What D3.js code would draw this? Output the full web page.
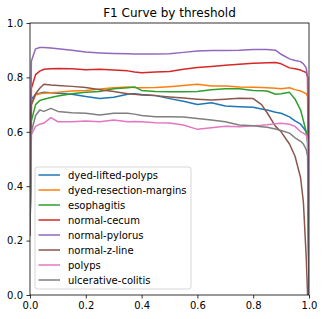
<!DOCTYPE html>
<meta charset="utf-8">
<style>
  body { margin: 0; background: #fff; }
  text { font-family: "DejaVu Sans", sans-serif; fill: #000; }
</style>
<script src="https://d3js.org/d3.v7.min.js"></script>
<div id="my_dataviz"></div>
<script>
// thresholds shared by every class
var thresholds = [0, 0.005, 0.02, 0.035, 0.05, 0.075, 0.1, 0.15, 0.2, 0.25, 0.3, 0.35, 0.375, 0.4, 0.45, 0.5,
  0.55, 0.6, 0.65, 0.7, 0.75, 0.8, 0.83, 0.85, 0.88, 0.9, 0.93, 0.95, 0.97, 0.98, 0.99, 0.995, 1]

var classNames = ["dyed-lifted-polyps", "dyed-resection-margins", "esophagitis", "normal-cecum",
  "normal-pylorus", "normal-z-line", "polyps", "ulcerative-colitis"]

var dyedLifted = [0.22, 0.72, 0.738, 0.742, 0.745, 0.744, 0.742, 0.738, 0.73, 0.722, 0.727, 0.738, 0.74, 0.737, 0.733, 0.722,
  0.712, 0.7, 0.707, 0.695, 0.692, 0.69, 0.684, 0.68, 0.672, 0.668, 0.655, 0.64, 0.628, 0.615, 0.6, 0.58, 0]
var dyedResection = [0.22, 0.7, 0.735, 0.74, 0.742, 0.744, 0.745, 0.75, 0.752, 0.757, 0.762, 0.765, 0.763, 0.762, 0.763, 0.766,
  0.77, 0.775, 0.768, 0.768, 0.765, 0.764, 0.763, 0.762, 0.76, 0.758, 0.762, 0.755, 0.75, 0.745, 0.74, 0.73, 0]
var esophagitis = [0.22, 0.64, 0.7, 0.715, 0.72, 0.726, 0.732, 0.74, 0.745, 0.748, 0.758, 0.762, 0.765, 0.752, 0.748, 0.747,
  0.747, 0.748, 0.755, 0.758, 0.758, 0.752, 0.751, 0.75, 0.738, 0.74, 0.745, 0.72, 0.68, 0.64, 0.6, 0.56, 0]
var normalCecum = [0.22, 0.76, 0.81, 0.823, 0.83, 0.832, 0.833, 0.832, 0.828, 0.83, 0.827, 0.824, 0.82, 0.817, 0.82, 0.822,
  0.83, 0.836, 0.84, 0.845, 0.848, 0.852, 0.853, 0.854, 0.855, 0.85, 0.835, 0.832, 0.827, 0.822, 0.818, 0.8, 0]
var normalPylorus = [0.22, 0.86, 0.905, 0.91, 0.91, 0.908, 0.905, 0.9, 0.893, 0.89, 0.888, 0.887, 0.886, 0.886, 0.886, 0.887,
  0.892, 0.897, 0.899, 0.899, 0.9, 0.903, 0.903, 0.903, 0.9, 0.885, 0.868, 0.862, 0.858, 0.85, 0.835, 0.8, 0]
var normalZline = [0.22, 0.7, 0.74, 0.76, 0.775, 0.772, 0.77, 0.767, 0.763, 0.755, 0.748, 0.74, 0.738, 0.735, 0.733, 0.728,
  0.724, 0.72, 0.717, 0.72, 0.723, 0.722, 0.7, 0.67, 0.62, 0.6, 0.555, 0.51, 0.43, 0.34, 0.14, 0, 0]
var polyps = [0.22, 0.59, 0.62, 0.628, 0.632, 0.652, 0.637, 0.637, 0.64, 0.637, 0.643, 0.637, 0.638, 0.637, 0.633, 0.632,
  0.625, 0.609, 0.615, 0.62, 0.619, 0.622, 0.624, 0.626, 0.63, 0.631, 0.628, 0.62, 0.6, 0.595, 0.588, 0.57, 0]
var ulcerative = [0.22, 0.6, 0.66, 0.68, 0.675, 0.686, 0.675, 0.67, 0.668, 0.662, 0.668, 0.668, 0.665, 0.66, 0.655, 0.655,
  0.654, 0.649, 0.643, 0.637, 0.625, 0.622, 0.619, 0.617, 0.61, 0.605, 0.595, 0.578, 0.565, 0.555, 0.535, 0.51, 0]

var seriesValues = [dyedLifted, dyedResection, esophagitis, normalCecum, normalPylorus, normalZline, polyps, ulcerative]
var colors = ["#1f77b4", "#ff7f0e", "#2ca02c", "#d62728", "#9467bd", "#8c564b", "#e377c2", "#7f7f7f"]
var tickValues = [0, 0.2, 0.4, 0.6, 0.8, 1.0]

var width = 324
var height = 319
var margin = {top: 23, right: 15, bottom: 24, left: 30}

var svg = d3.select("#my_dataviz")
  .append("svg")
    .attr("width", width)
    .attr("height", height)

var x = d3.scaleLinear().domain([0, 1]).range([margin.left, width - margin.right])
var y = d3.scaleLinear().domain([0, 1]).range([height - margin.bottom, margin.top])

// title
svg.append("text")
  .attr("x", (x(0) + x(1)) / 2)
  .attr("y", 17)
  .attr("text-anchor", "middle")
  .style("font-size", "12px")
  .text("F1 Curve by threshold")

svg.append("clipPath").attr("id", "clip")
  .append("rect")
    .attr("x", x(0)).attr("y", y(1))
    .attr("width", x(1) - x(0)).attr("height", y(0) - y(1))

var line = d3.line()
  .x(function(d, i) { return x(thresholds[i]) })
  .y(function(d) { return y(d) })

svg.append("g").attr("clip-path", "url(#clip)")
  .selectAll("path")
  .data(seriesValues)
  .enter()
  .append("path")
    .attr("d", line)
    .attr("fill", "none")
    .attr("stroke", function(d, i) { return colors[i] })
    .attr("stroke-width", 1.5)
    .attr("stroke-linejoin", "round")

// axes
var xAxis = svg.append("g")
  .attr("transform", "translate(0," + y(0) + ")")
  .call(d3.axisBottom(x).tickValues(tickValues).tickFormat(d3.format(".1f")).tickSizeOuter(0).tickSize(3.5).tickPadding(3.5))
var yAxis = svg.append("g")
  .attr("transform", "translate(" + x(0) + ",0)")
  .call(d3.axisLeft(y).tickValues(tickValues).tickFormat(d3.format(".1f")).tickSizeOuter(0).tickSize(3.5).tickPadding(3.5))
svg.selectAll(".tick text").style("font-size", "10px").attr("fill", "#000")
svg.selectAll(".tick line").attr("stroke", "#000").attr("stroke-width", 0.8)
svg.selectAll(".domain").remove()

// frame
svg.append("rect")
  .attr("x", x(0)).attr("y", y(1))
  .attr("width", x(1) - x(0)).attr("height", y(0) - y(1))
  .attr("fill", "none")
  .attr("stroke", "#000")
  .attr("stroke-width", 0.8)

// legend
var legend = svg.append("g").attr("transform", "translate(35,167)")
legend.append("rect")
  .attr("width", 156).attr("height", 122)
  .attr("rx", 2.5)
  .attr("fill", "#fff").attr("fill-opacity", 0.8)
  .attr("stroke", "#ccc").attr("stroke-width", 0.8)

var items = legend.selectAll("g.item")
  .data(classNames)
  .enter()
  .append("g")
    .attr("transform", function(d, i) { return "translate(0," + (8 + i * 15) + ")" })
items.append("line")
  .attr("x1", 3.5).attr("x2", 25)
  .attr("stroke", function(d, i) { return colors[i] })
  .attr("stroke-width", 1.5)
items.append("text")
  .attr("x", 33)
  .attr("dy", "0.35em")
  .style("font-size", "10px")
  .text(function(d) { return d })
</script>
